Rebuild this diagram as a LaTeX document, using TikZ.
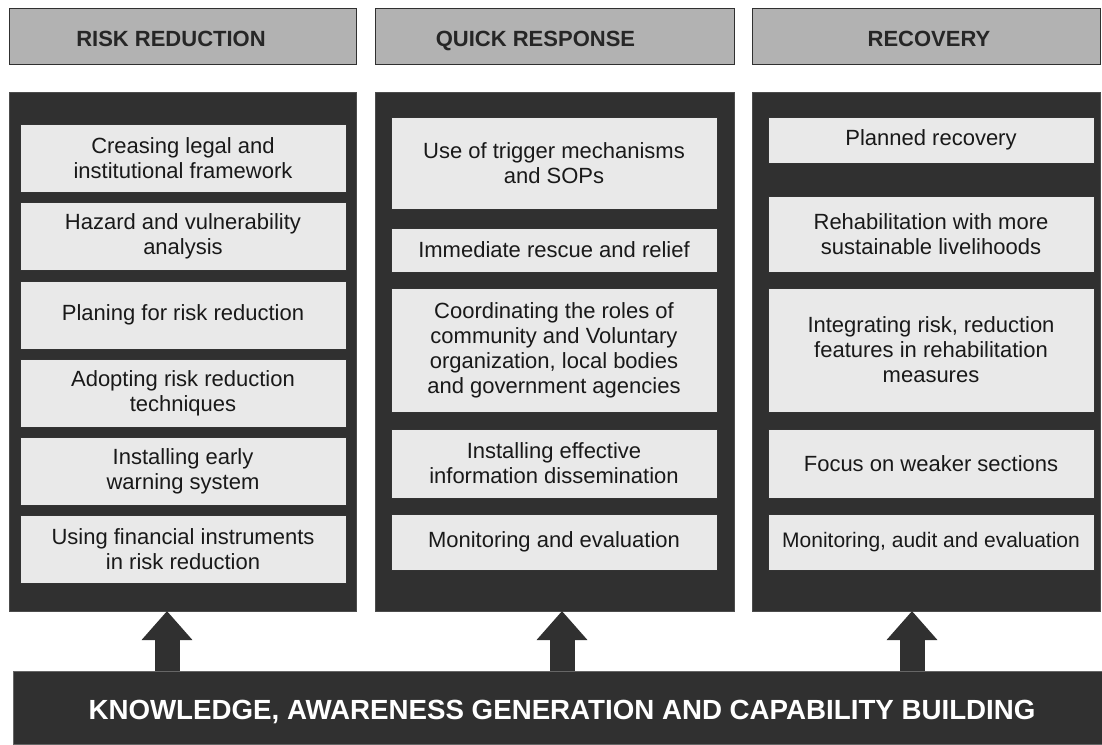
\documentclass[tikz,border=0pt]{standalone}
\usepackage{fontspec}
\setmainfont{Liberation Sans}
\usepackage{xcolor}
\usepackage{tikz}
\usetikzlibrary{arrows.meta}
\definecolor{panelgrey}{RGB}{48,48,48}
\definecolor{headgrey}{RGB}{178,178,178}
\definecolor{itemgrey}{RGB}{233,233,233}
\tikzset{head/.style={rectangle,draw=panelgrey,fill=headgrey,line width=0.8pt,minimum height=56pt,inner sep=0pt,text height=20pt,text depth=0pt,font=\bfseries\fontsize{22}{25}\selectfont,text=black!85},
         panel/.style={rectangle,draw=black!70,fill=panelgrey,line width=0.8pt,minimum height=519pt,inner sep=0pt},
         item/.style={rectangle,draw=black!80,fill=itemgrey,line width=0.8pt,minimum width=326pt,inner sep=0pt,align=center,font=\fontsize{22}{25}\selectfont,text=black!90},
         uparrow/.style={draw=panelgrey,line width=25pt,-{Triangle[width=49pt,length=29pt]}}}

\begin{document}
\begin{tikzpicture}[x=1pt,y=-1pt]
        \useasboundingbox (0,0) rectangle (1102,744);

        \node[head,minimum width=347pt] (h1) at (182.5,36) {RISK REDUCTION\hspace*{23pt}};
        \node[head,minimum width=359pt] (h2) at (554.5,36) {QUICK RESPONSE\hspace*{38pt}};
        \node[head,minimum width=348pt] (h3) at (926,36) {\hspace*{6pt}RECOVERY};

        \node[panel,minimum width=347pt] (p1) at (182.5,351.5) {};
        \node[panel,minimum width=359pt] (p2) at (554.5,351.5) {};
        \node[panel,minimum width=348pt] (p3) at (926,351.5) {};

        % risk reduction
        \node[item,minimum height=68pt] (rr1) at (183,158) {Creasing legal and\\institutional framework};
        \node[item,minimum height=68pt] (rr2) at (183,236) {Hazard and vulnerability\\analysis};
        \node[item,minimum height=68pt] (rr3) at (183,315) {Planing for risk reduction};
        \node[item,minimum height=68pt] (rr4) at (183,393) {Adopting risk reduction\\techniques};
        \node[item,minimum height=68pt] (rr5) at (183,471) {Installing early\\warning system};
        \node[item,minimum height=68pt] (rr6) at (183,549) {Using financial instruments\\in risk reduction};

        % quick response
        \node[item,minimum height=92pt] (qr1) at (554,163) {Use of trigger mechanisms\\and SOPs};
        \node[item,minimum height=44pt] (qr2) at (554,250) {Immediate rescue and relief};
        \node[item,minimum height=124pt] (qr3) at (554,350) {Coordinating the roles of\\community and Voluntary\\organization, local bodies\\and government agencies};
        \node[item,minimum height=69pt] (qr4) at (554,463.5) {Installing effective\\information dissemination};
        \node[item,minimum height=56pt] (qr5) at (554,542) {Monitoring and evaluation};

        % recovery
        \node[item,minimum height=46pt] (rc1) at (931,140) {Planned recovery};
        \node[item,minimum height=76pt] (rc2) at (931,234) {Rehabilitation with more\\sustainable livelihoods};
        \node[item,minimum height=124pt] (rc3) at (931,350) {Integrating risk, reduction\\features in rehabilitation\\measures};
        \node[item,minimum height=69pt] (rc4) at (931,463.5) {Focus on weaker sections};
        \node[item,minimum height=56pt,font=\fontsize{21}{25}\selectfont] (rc5) at (931,542) {Monitoring, audit and evaluation};

        \node[rectangle,draw=black!60,fill=panelgrey,line width=0.8pt,minimum width=1089pt,minimum height=73pt,inner sep=0pt] (kb) at (557.5,707.5) {};
        \node[text=white,text height=20pt,text depth=0pt,inner sep=0pt,font=\bfseries\fontsize{27.7}{30}\selectfont] (kbt) at (562,709) {KNOWLEDGE, AWARENESS GENERATION AND CAPABILITY BUILDING};

        \coordinate (a1) at (167,611);
        \coordinate (a2) at (562,611);
        \coordinate (a3) at (912,611);
        \draw [uparrow] (kb.north -| a1) -- (a1);
        \draw [uparrow] (kb.north -| a2) -- (a2);
        \draw [uparrow] (kb.north -| a3) -- (a3);
    \end{tikzpicture}
\end{document}
